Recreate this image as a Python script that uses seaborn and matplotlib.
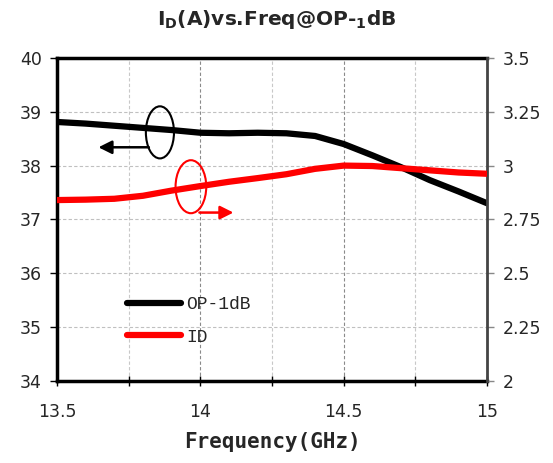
import matplotlib
matplotlib.use("Agg")
import matplotlib.pyplot as plt
import seaborn as sns
import numpy as np
import pandas as pd
from matplotlib.patches import Ellipse, FancyArrowPatch
from matplotlib.lines import Line2D

freq = [13.5, 13.6, 13.7, 13.8, 13.9, 14.0, 14.1, 14.2, 14.3, 14.4, 14.5,
        14.6, 14.7, 14.8, 14.9, 15.0]
op1db = [38.81, 38.78, 38.74, 38.70, 38.66, 38.61, 38.60, 38.61, 38.60, 38.55,
         38.40, 38.19, 37.97, 37.73, 37.52, 37.30]
id_a = [2.840, 2.842, 2.846, 2.860, 2.884, 2.905, 2.925, 2.942, 2.960, 2.985,
        3.000, 2.998, 2.988, 2.978, 2.968, 2.962]

x_ticks = [13.5, 14, 14.5, 15]
x_tick_labels = ["13.5", "14", "14.5", "15"]
left_ticks = [34, 35, 36, 37, 38, 39, 40]
right_ticks = [2, 2.25, 2.5, 2.75, 3, 3.25, 3.5]
right_tick_labels = ["2", "2.25", "2.5", "2.75", "3", "3.25", "3.5"]

df = pd.DataFrame({"freq": freq, "op1db": op1db, "id": id_a})

sns.set_style("white")
plt.rcParams["font.family"] = ["DejaVu Sans"]

fig = plt.figure(figsize=(5.53, 4.63), dpi=100)
ax = fig.add_axes([0.103, 0.177, 0.778, 0.698])
ax2 = ax.twinx()

# grid
for xv in [13.75, 14.25, 14.75]:
    ax.axvline(xv, color="#c8c8c8", lw=0.8, ls=(0, (3, 2)), zorder=0)
for xv in [14.0, 14.5]:
    ax.axvline(xv, color="#8a8a8a", lw=0.8, ls=(0, (3, 2)), zorder=0)
for yv in [35, 36, 37, 38, 39]:
    ax.axhline(yv, color="#c0c0c0", lw=0.8, ls=(0, (3, 2)), zorder=0)

sns.lineplot(data=df, x="freq", y="op1db", ax=ax, color="black", lw=4.5,
             legend=False, zorder=3, solid_joinstyle="round")
sns.lineplot(data=df, x="freq", y="id", ax=ax2, color="#ff0000", lw=4.5,
             legend=False, zorder=3, solid_joinstyle="round")

ax.set_xlim(13.5, 15)
ax.set_ylim(34, 40)
ax2.set_ylim(2, 3.5)
ax.set_xticks(x_ticks)
ax.set_xticklabels(x_tick_labels, fontsize=12.5)
ax.set_xticks([13.75, 14.25, 14.75], minor=True)
ax.set_yticks(left_ticks)
ax.set_yticklabels([str(t) for t in left_ticks], fontsize=12.5)
ax2.set_yticks(right_ticks)
ax2.set_yticklabels(right_tick_labels, fontsize=12.5)

ax.tick_params(axis="x", which="both", direction="inout", length=7, width=1,
               color="black", pad=12, bottom=True)
ax.tick_params(axis="y", direction="out", length=5, width=1, color="black",
               pad=6, left=True)
ax2.tick_params(axis="y", direction="out", length=5, width=1, color="#888888",
                pad=6, right=True)

ax.set_xlabel("Frequency(GHz)", fontsize=15, fontweight="bold",
              family="DejaVu Sans Mono", labelpad=8)
ax.set_ylabel("")
ax2.set_ylabel("")

for sp in ["left", "bottom", "top"]:
    ax.spines[sp].set_color("black")
    ax.spines[sp].set_linewidth(2.5)
    ax2.spines[sp].set_visible(False)
ax.spines["right"].set_visible(False)
ax2.spines["right"].set_color("#444444")
ax2.spines["right"].set_linewidth(2)
ax2.spines["right"].set_visible(True)
ax2.spines["left"].set_visible(False)

# annotations
ax.add_patch(Ellipse((13.859, 38.617), 0.098, 0.967, fill=False,
                     edgecolor="black", lw=1.5, zorder=4))
ax.add_patch(FancyArrowPatch((13.83, 38.34), (13.635, 38.34),
                             arrowstyle="-|>,head_length=8,head_width=4",
                             color="black", lw=1.8, zorder=4))
ax2.add_patch(Ellipse((13.967, 2.902), 0.107, 0.246, fill=False,
                      edgecolor="#ff0000", lw=1.5, zorder=4))
ax2.add_patch(FancyArrowPatch((13.987, 2.782), (14.125, 2.782),
                              arrowstyle="-|>,head_length=8,head_width=4",
                              color="#ff0000", lw=1.8, zorder=4))

handles = [Line2D([], [], color="black", lw=4.5, solid_capstyle="round"),
           Line2D([], [], color="#ff0000", lw=4.5, solid_capstyle="round")]
leg = ax2.legend(handles, ["OP-1dB", "ID"], loc="upper left",
                 bbox_to_anchor=(0.125, 0.312), frameon=False,
                 prop={"family": "Liberation Mono", "size": 13},
                 handlelength=3.0, handletextpad=0.3, labelspacing=0.85)

fig.text(0.5, 0.958, r"I$\mathregular{_D}$(A)vs.Freq@OP-$\mathregular{_1}$dB",
         ha="center", va="center", fontsize=14.5, fontweight="bold")

fig.savefig("out.png", dpi=100)
